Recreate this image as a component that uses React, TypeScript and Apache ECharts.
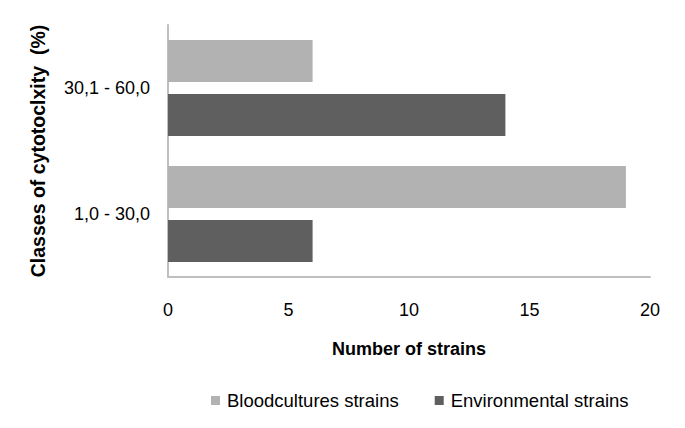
import React, { useEffect, useRef } from "react";
import * as echarts from "echarts";

const categories = ["1,0 - 30,0", "30,1 - 60,0"];
const bloodcultures = [19, 6];
const environmental = [6, 14];
const seriesNames = ["Bloodcultures strains", "Environmental strains"];
const xTicks = { min: 0, max: 20, interval: 5 };

export default function App() {
  const ref = useRef<HTMLDivElement>(null);
  useEffect(() => {
    if (!ref.current) return;
    const chart = echarts.init(ref.current, null, { renderer: "svg" });
    const font = "'Liberation Sans', Arial, sans-serif";
    chart.setOption({
      animation: false,
      textStyle: { fontFamily: font },
      grid: { left: 168, right: 35, top: 25, bottom: 151, containLabel: false },
      legend: {
        data: seriesNames,
        top: 386,
        left: 206,
        itemWidth: 9,
        itemHeight: 9,
        itemGap: 36,
        icon: "rect",
        textStyle: { fontSize: 18.5, color: "#000", fontFamily: font, padding: [0, 0, 0, 2] },
      },
      xAxis: {
        type: "value",
        min: xTicks.min,
        max: xTicks.max,
        interval: xTicks.interval,
        name: "Number of strains",
        nameLocation: "middle",
        nameGap: 63,
        nameTextStyle: { fontSize: 18, fontWeight: "bold", color: "#000", fontFamily: font },
        axisLine: { show: true, lineStyle: { color: "#bfbfbf", width: 2 } },
        axisTick: { show: false },
        splitLine: { show: false },
        axisLabel: { fontSize: 18, color: "#000", margin: 24, fontFamily: font },
      },
      yAxis: {
        type: "category",
        data: categories,
        name: "Classes of cytotoclxity  (%)",
        nameLocation: "middle",
        nameGap: 120,
        nameTextStyle: { fontSize: 19.5, fontWeight: "bold", color: "#000", fontFamily: font },
        axisLine: { show: true, lineStyle: { color: "#bfbfbf", width: 2 } },
        axisTick: { show: false },
        axisLabel: { fontSize: 18, color: "#000", margin: 18, fontFamily: font },
      },
      series: [
        {
          name: seriesNames[0],
          type: "bar",
          data: bloodcultures,
          itemStyle: { color: "#b2b2b2" },
          barGap: "28%",
          barCategoryGap: "24%",
        },
        {
          name: seriesNames[1],
          type: "bar",
          data: environmental,
          itemStyle: { color: "#5f5f5f" },
          barGap: "28%",
          barCategoryGap: "24%",
        },
      ],
    });
    return () => chart.dispose();
  }, []);
  return <div ref={ref} style={{ width: 685, height: 428, position: "absolute", left: 0, top: 0, background: "#fff" }} />;
}
